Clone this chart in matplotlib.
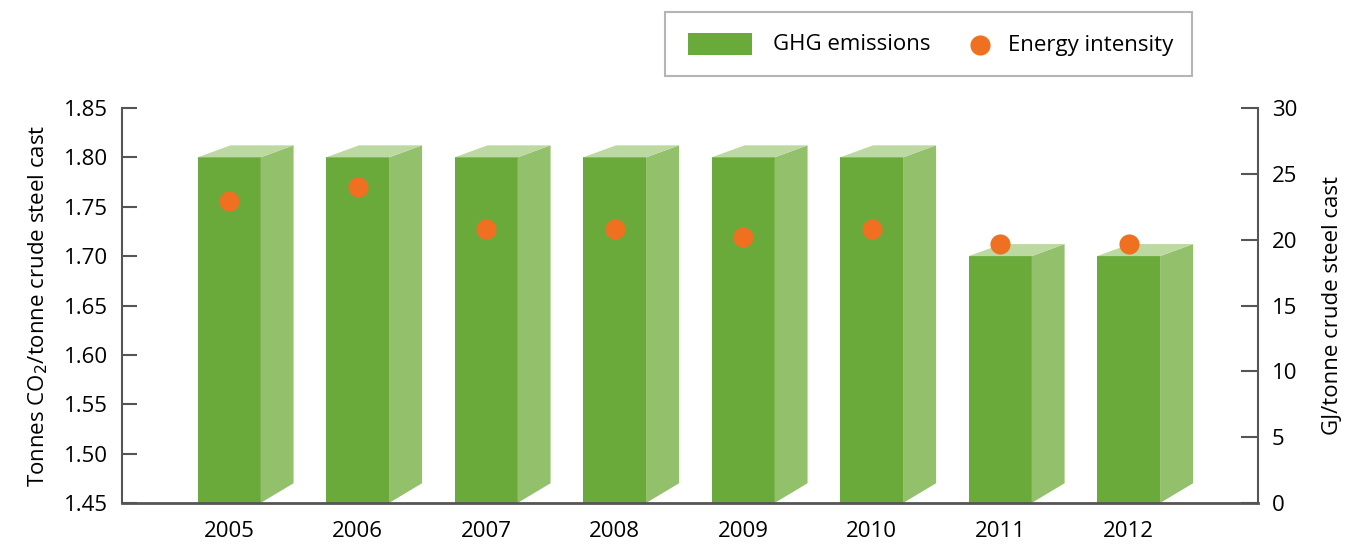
import matplotlib
matplotlib.use("Agg")
import matplotlib.pyplot as plt
from matplotlib.patches import Polygon, Rectangle
from matplotlib.lines import Line2D

plt.rcParams['font.family'] = ['Open Sans', 'DejaVu Sans']

# Data
years = ["2005", "2006", "2007", "2008", "2009", "2010", "2011", "2012"]
ghg_emissions = [1.80, 1.80, 1.80, 1.80, 1.80, 1.80, 1.70, 1.70]       # t CO2 / t crude steel cast
energy_intensity = [22.9, 24.0, 20.8, 20.8, 20.2, 20.8, 19.7, 19.7]   # GJ / t crude steel cast
left_ticks = [1.45, 1.50, 1.55, 1.60, 1.65, 1.70, 1.75, 1.80, 1.85]
right_ticks = [0, 5, 10, 15, 20, 25, 30]

# Styling
FRONT = "#6aaa3b"
SIDE = "#93c06b"
TOP = "#bbd9a0"
DOT = "#f07022"
SPINE = "#555555"
FS = 16

W, H = 1345, 546
fig = plt.figure(figsize=(W / 100, H / 100), dpi=100)
ax = fig.add_axes([122 / W, 1 - 503 / H, (1258 - 122) / W, (503 - 108) / H])

x = list(range(len(years)))
ymin, ymax = left_ticks[0], left_ticks[-1]
bar_w = 0.49
depth_x = 0.257      # horizontal depth of the pseudo-3D box (x units)
depth_top = 0.0122   # vertical rise of the top face (left-axis units)
depth_bot = 0.0200   # vertical rise of the side face bottom edge

ax.set_xlim(-0.833, 8.007)
ax.set_ylim(ymin, ymax)

# Front faces
ax.bar(x, [v - ymin for v in ghg_emissions], bottom=ymin, width=bar_w,
       color=FRONT, edgecolor="none", zorder=2)

# Side and top faces
for xi, v in zip(x, ghg_emissions):
    x0, x1 = xi - bar_w / 2, xi + bar_w / 2
    side = Polygon([(x1, ymin), (x1 + depth_x, ymin + depth_bot),
                    (x1 + depth_x, v + depth_top), (x1, v)],
                   closed=True, facecolor=SIDE, edgecolor="none", zorder=2)
    top = Polygon([(x0, v), (x0 + depth_x, v + depth_top),
                   (x1 + depth_x, v + depth_top), (x1, v)],
                  closed=True, facecolor=TOP, edgecolor="none", zorder=2)
    ax.add_patch(side)
    ax.add_patch(top)

ax.set_yticks(left_ticks)
ax.set_yticklabels([f"{t:.2f}" for t in left_ticks])
ax.set_xticks(x)
ax.set_xticklabels(years)
ax.tick_params(axis="x", length=0, pad=13, labelsize=FS)
ax.tick_params(axis="y", direction="in", length=11, width=1.5, color=SPINE,
               pad=10, labelsize=FS)
ax.set_ylabel("Tonnes CO$_2$/tonne crude steel cast", fontsize=FS, labelpad=10)

for side_name in ("top", "right"):
    ax.spines[side_name].set_visible(False)
ax.spines["left"].set_color(SPINE)
ax.spines["left"].set_linewidth(1.5)
ax.spines["bottom"].set_color(SPINE)
ax.spines["bottom"].set_linewidth(2)
ax.spines["bottom"].set_zorder(3)

# Energy intensity on the secondary axis
ax2 = ax.twinx()
ax2.set_ylim(right_ticks[0], right_ticks[-1])
ax2.set_yticks(right_ticks)
ax2.plot(x, energy_intensity, linestyle="none", marker="o", markersize=14.5,
         markerfacecolor=DOT, markeredgecolor="none", zorder=4)
ax2.tick_params(axis="y", direction="in", length=12, width=1.5, color=SPINE,
                pad=10, labelsize=FS)
ax2.set_ylabel("GJ/tonne crude steel cast", fontsize=FS, labelpad=18)
for side_name in ("top", "left", "bottom"):
    ax2.spines[side_name].set_visible(False)
ax2.spines["right"].set_color(SPINE)
ax2.spines["right"].set_linewidth(1.5)

# Legend box drawn in figure pixel coordinates
def fx(px):
    return px / W

def fy(py):
    return 1 - py / H

fig.add_artist(Rectangle((fx(665), fy(76)), fx(1192) - fx(665), fy(12) - fy(76),
                         transform=fig.transFigure, facecolor="white",
                         edgecolor="#b5b5b5", linewidth=1.5))
fig.add_artist(Rectangle((fx(688), fy(55)), fx(752) - fx(688), fy(33) - fy(55),
                         transform=fig.transFigure, facecolor=FRONT,
                         edgecolor="none"))
fig.text(fx(773), fy(45), "GHG emissions", fontsize=FS, va="center", ha="left")
fig.add_artist(Line2D([fx(980)], [fy(45)], transform=fig.transFigure,
                      linestyle="none", marker="o", markersize=14.5,
                      markerfacecolor=DOT, markeredgecolor="none"))
fig.text(fx(1008), fy(45), "Energy intensity", fontsize=FS, va="center", ha="left")

fig.savefig("out.png", dpi=100)
